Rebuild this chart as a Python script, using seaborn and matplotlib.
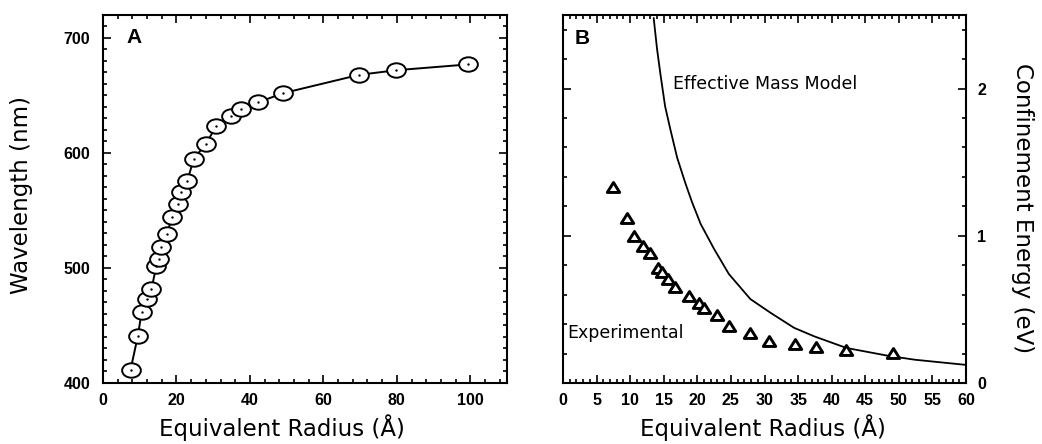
import matplotlib
matplotlib.use("Agg")
import matplotlib.pyplot as plt
import seaborn as sns
import pandas as pd
from matplotlib.path import Path
from matplotlib.transforms import Affine2D
from matplotlib.ticker import MultipleLocator
from matplotlib import font_manager

# ---------------- data ----------------
radius_a = [7.5, 9.5, 10.5, 12.1, 13.2, 14.5, 15.2, 15.9, 17.3, 18.9, 20.4, 21.2,
            23.0, 24.7, 28.0, 30.9, 34.8, 37.7, 42.2, 49.0, 69.8, 79.9, 99.3]
wavelength = [411.6, 441, 461.5, 473, 481.7, 501.4, 508, 518, 529.8, 544, 556, 565.8,
              576, 595, 607.8, 623.7, 631.9, 638, 644, 652, 668, 672, 677]

radius_b = [7.5, 9.5, 10.6, 11.9, 13.0, 14.1, 14.7, 15.6, 16.7, 18.7, 20.2, 21.0,
            22.9, 24.7, 27.9, 30.7, 34.6, 37.6, 42.2, 49.2]
energy_exp = [1.33, 1.12, 1.00, 0.93, 0.885, 0.78, 0.755, 0.705, 0.65, 0.59, 0.546, 0.51,
              0.46, 0.386, 0.34, 0.288, 0.265, 0.242, 0.226, 0.203]

model_radius = [13.5, 14.0, 14.5, 15.2, 16.0, 17.0, 18.2, 19.2, 20.5, 22.5, 24.7,
                27.9, 30.9, 34.4, 37.4, 42.2, 48.4, 52.4, 60.0]
model_energy = [2.48, 2.27, 2.10, 1.88, 1.72, 1.53, 1.36, 1.23, 1.08, 0.91, 0.74,
                0.57, 0.477, 0.375, 0.317, 0.238, 0.185, 0.158, 0.123]

xticks_a = [0, 20, 40, 60, 80, 100]
yticks_a = [400, 500, 600, 700]
xticks_b = [0, 5, 10, 15, 20, 25, 30, 35, 40, 45, 50, 55, 60]
yticks_b = [0, 1, 2]

df_a = pd.DataFrame({"radius": radius_a, "wavelength": wavelength})
df_b = pd.DataFrame({"radius": radius_b, "energy": energy_exp})
df_m = pd.DataFrame({"radius": model_radius, "energy": model_energy})

# ---------------- style ----------------
sns.set_theme(style="ticks")
plt.rcParams["font.family"] = ["DejaVu Sans"]
plt.rcParams["text.color"] = "black"
plt.rcParams["axes.labelcolor"] = "black"
plt.rcParams["xtick.color"] = "black"
plt.rcParams["ytick.color"] = "black"
avail = {f.name for f in font_manager.fontManager.ttflist}
if "Liberation Sans Narrow" in avail:
    tick_family, tick_size = "Liberation Sans Narrow", 12.5
else:
    tick_family, tick_size = "Liberation Sans", 11.5
label_size = 16.5

W, H = 1042, 444
fig = plt.figure(figsize=(W / 100, H / 100), dpi=100)

def frac(l, t, r, b):
    return [l / W, (H - b) / H, (r - l) / W, (b - t) / H]

axA = fig.add_axes(frac(103, 15, 507, 383))
axB = fig.add_axes(frac(563, 15, 966, 383))

ellipse = Path.unit_circle().transformed(Affine2D().scale(1.3, 1.0))
tri = Path([(0, 0.8), (-1, -0.8), (1, -0.8), (0, 0.8)],
           [Path.MOVETO, Path.LINETO, Path.LINETO, Path.CLOSEPOLY])

# ---------------- panel A ----------------
sns.lineplot(data=df_a, x="radius", y="wavelength", ax=axA, color="black", lw=1.4,
             marker=ellipse, markersize=13.5, markerfacecolor="white",
             markeredgecolor="black", markeredgewidth=1.4)
sns.scatterplot(data=df_a, x="radius", y="wavelength", ax=axA, color="black",
                s=3, linewidth=0, zorder=5)
axA.set_xlim(0, 110)
axA.set_ylim(400, 720)
axA.set_xticks(xticks_a)
axA.set_yticks(yticks_a)
axA.xaxis.set_minor_locator(MultipleLocator(4))
axA.yaxis.set_minor_locator(MultipleLocator(10))
axA.text(0.058, 0.94, "A", transform=axA.transAxes, fontsize=15, fontweight="bold",
         ha="left", va="center", family="Liberation Sans")
axA.set_xlabel("Equivalent Radius (Å)", fontsize=label_size)
axA.set_ylabel("Wavelength (nm)", fontsize=label_size)
axA.xaxis.set_label_coords(0.443, -0.122)
axA.yaxis.set_label_coords(-0.2005, 0.511)
axA.xaxis.label.set_va("center")
axA.yaxis.label.set_va("center")

# ---------------- panel B ----------------
sns.lineplot(data=df_m, x="radius", y="energy", ax=axB, color="black", lw=1.3)
sns.scatterplot(data=df_b, x="radius", y="energy", ax=axB, marker=tri, s=80,
                facecolor="white", edgecolor="black", linewidth=2.1, zorder=5)
axB.set_xlim(0, 60)
axB.set_ylim(0, 2.5)
axB.set_xticks(xticks_b)
axB.set_yticks(yticks_b)
axB.xaxis.set_minor_locator(MultipleLocator(1))
axB.yaxis.set_minor_locator(MultipleLocator(0.2))
axB.yaxis.tick_right()
axB.yaxis.set_label_position("right")
axB.text(0.03, 0.935, "B", transform=axB.transAxes, fontsize=15, fontweight="bold",
         ha="left", va="center", family="Liberation Sans")
axB.text(16.4, 2.03, "Effective Mass Model", fontsize=12.5, ha="left", va="center")
axB.text(0.6, 0.34, "Experimental", fontsize=12.5, ha="left", va="center")
axB.set_xlabel("Equivalent Radius (Å)", fontsize=label_size)
axB.set_ylabel("Confinement Energy (eV)", fontsize=label_size, rotation=-90)
axB.xaxis.set_label_coords(0.496, -0.122)
axB.yaxis.set_label_coords(1.139, 0.476)
axB.xaxis.label.set_va("center")
axB.yaxis.label.set_va("center")

for ax in (axA, axB):
    for s in ax.spines.values():
        s.set_linewidth(1.5)
        s.set_color("black")
        s.set_visible(True)
    ax.tick_params(which="both", direction="in", top=True, bottom=True,
                   left=True, right=True, color="black", width=1.2)
    ax.tick_params(which="major", length=6)
    ax.tick_params(which="minor", length=3)
    ax.tick_params(axis="x", which="major", pad=7)
    for lab in ax.get_xticklabels() + ax.get_yticklabels():
        lab.set_family(tick_family)
        lab.set_fontsize(tick_size)
        lab.set_fontweight("bold")
        lab.set_color("black")

axA.tick_params(axis="y", which="major", pad=9)
axB.tick_params(axis="y", which="major", pad=8, labelleft=False, labelright=True)

fig.savefig("out.png", dpi=100, facecolor="white")
